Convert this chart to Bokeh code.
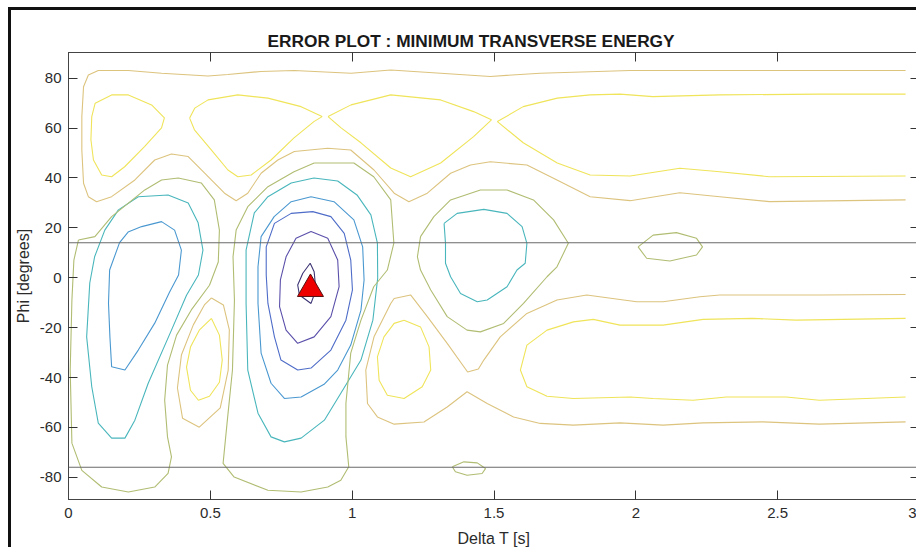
from bokeh.plotting import figure
from bokeh.models import Range1d, LinearAxis, FixedTicker, Span
from bokeh.embed import file_html
from bokeh.resources import INLINE

# ---------------- data ----------------
title_text = "ERROR PLOT : MINIMUM TRANSVERSE ENERGY"
x_label = "Delta T [s]"
y_label = "Phi [degrees]"
x_ticks = [0, 0.5, 1, 1.5, 2, 2.5, 3]
x_tick_labels = ["0", "0.5", "1", "1.5", "2", "2.5", "3"]
y_ticks = [-80, -60, -40, -20, 0, 20, 40, 60, 80]
y_tick_labels = ["-80", "-60", "-40", "-20", "0", "20", "40", "60", "80"]
ref_lines_phi = [14, -76]
min_dt = [0.853]
min_phi = [-4.5]

level_colors = {
    "D0": "#3d3575", "D1": "#5a50aa", "D2": "#4e6cc8", "D3": "#4a98d0",
    "D4": "#49b6bc", "G": "#b0bd72", "T": "#dcc37e", "Y": "#efe45a",
}

# tan band, top (open)
t_top_x = [2.951, 2.647, 2.296, 1.980, 1.663, 1.487, 1.312, 1.136, 0.996, 0.795, 0.679, 0.562, 0.492, 0.328,
           0.211, 0.105, 0.070, 0.053, 0.047, 0.047, 0.053, 0.070, 0.099, 0.152, 0.234, 0.304, 0.363, 0.422,
           0.480, 0.550, 0.591, 0.632, 0.679, 0.738, 0.796, 0.914, 0.995, 1.077, 1.148, 1.200, 1.265, 1.347,
           1.417, 1.487, 1.616, 1.722, 1.839, 1.980, 2.155, 2.296, 2.471, 2.951]
t_top_y = [83.1, 83.1, 83.1, 83.1, 82.0, 80.7, 82.0, 83.3, 82.0, 83.1, 82.7, 81.5, 80.9, 82.0,
           83.1, 83.1, 81.3, 76.6, 64.6, 51.2, 37.9, 32.5, 30.5, 32.5, 39.2, 47.2, 49.6, 48.6,
           41.9, 33.9, 30.9, 33.9, 41.9, 47.2, 50.6, 51.9, 51.2, 43.2, 33.9, 30.5, 33.9, 41.9,
           45.2, 46.5, 45.2, 39.2, 32.5, 30.9, 34.1, 32.5, 30.5, 31.2]

# yellow loops, top
y_a_x = [0.094, 0.152, 0.211, 0.293, 0.338, 0.328, 0.268, 0.198, 0.152, 0.117, 0.088, 0.079, 0.082]
y_a_y = [70.0, 73.3, 73.3, 69.3, 64.1, 60.1, 52.6, 44.5, 40.5, 41.2, 47.2, 55.3, 64.6]
y_b_x = [0.427, 0.445, 0.492, 0.597, 0.703, 0.820, 0.894, 0.865, 0.795, 0.714, 0.644, 0.597, 0.562, 0.504, 0.444]
y_b_y = [64.0, 68.0, 71.3, 73.3, 72.0, 68.6, 64.6, 62.6, 56.1, 47.2, 41.2, 40.5, 43.2, 51.2, 59.3]
y_c_x = [0.915, 0.996, 1.136, 1.312, 1.428, 1.491, 1.428, 1.312, 1.206, 1.136, 1.031, 0.961]
y_c_y = [64.6, 69.3, 73.3, 71.3, 66.6, 63.3, 56.6, 46.0, 40.5, 44.0, 54.1, 60.1]
y_r_x = [2.951, 2.647, 2.296, 2.060, 1.944, 1.839, 1.723, 1.603, 1.512, 1.603, 1.723, 1.839, 1.980, 2.155, 2.296, 2.471, 2.951]
y_r_y = [73.6, 73.6, 73.3, 72.6, 73.6, 73.3, 72.0, 68.6, 62.6, 54.1, 46.0, 41.2, 40.8, 43.9, 42.5, 40.5, 40.8]

# rings around the main minimum
d0_x = [0.852, 0.866, 0.872, 0.855, 0.814, 0.808, 0.826]
d0_y = [5.8, 2.4, -4.9, -10.3, -6.9, -2.9, 1.8]
d1_x = [0.855, 0.914, 0.949, 0.954, 0.925, 0.866, 0.808, 0.767, 0.744, 0.747, 0.767, 0.802]
d1_y = [18.5, 15.8, 7.1, -3.6, -15.6, -23.7, -26.3, -21.0, -11.6, -0.9, 8.4, 15.8]
d2_x = [0.861, 0.925, 0.972, 0.995, 1.001, 0.978, 0.925, 0.855, 0.808, 0.749, 0.726, 0.703, 0.697, 0.697, 0.726, 0.785]
d2_y = [26.5, 24.5, 17.8, 7.1, -4.9, -17.0, -29.0, -36.2, -37.0, -33.0, -23.7, -10.3, 1.1, 12.4, 21.8, 25.8]
d3_x = [0.855, 0.936, 1.006, 1.037, 1.042, 1.031, 0.995, 0.949, 0.901, 0.820, 0.761, 0.714, 0.679, 0.668, 0.668, 0.679, 0.725, 0.785]
d3_y = [32.5, 30.5, 23.2, 12.4, -0.9, -13.0, -27.0, -37.0, -42.7, -47.8, -48.4, -42.3, -30.2, -10.2, 4.4, 16.5, 24.5, 30.5]
d4_x = [0.865, 0.949, 1.017, 1.066, 1.089, 1.090, 1.073, 1.031, 0.960, 0.902, 0.820, 0.761, 0.714, 0.668, 0.632, 0.626, 0.626, 0.655, 0.703, 0.785]
d4_y = [40.0, 38.8, 33.2, 25.2, 13.9, -0.1, -17.0, -33.0, -46.3, -57.1, -64.3, -65.8, -63.8, -54.3, -37.0, -10.2, 11.1, 26.0, 32.5, 38.0]
g_main_x = [0.866, 1.006, 1.076, 1.136, 1.147, 1.124, 1.076, 1.031, 0.995, 0.978, 0.978, 0.988, 0.960, 0.914, 0.820,
            0.703, 0.584, 0.545, 0.560, 0.578, 0.585, 0.580, 0.591, 0.632, 0.703, 0.795]
g_main_y = [46.0, 46.0, 40.5, 31.2, 13.9, 3.1, -3.6, -17.0, -30.2, -50.3, -63.8, -75.8, -81.2, -83.9, -85.9,
            -85.2, -79.9, -74.4, -57.1, -37.0, -9.0, 8.4, 19.1, 28.5, 36.5, 42.5]

# left minimum
l3_x = [0.258, 0.328, 0.374, 0.398, 0.388, 0.356, 0.304, 0.246, 0.199, 0.152, 0.146, 0.141, 0.145, 0.180, 0.210]
l3_y = [20.5, 22.5, 19.1, 11.1, 1.1, -5.8, -18.2, -29.0, -37.0, -35.7, -23.7, -10.2, 3.1, 14.1, 18.3]
l4_x = [0.176, 0.246, 0.351, 0.422, 0.457, 0.474, 0.458, 0.416, 0.363, 0.281, 0.234, 0.199, 0.152, 0.105, 0.082, 0.064, 0.075, 0.092, 0.128]
l4_y = [27.2, 32.5, 33.2, 30.0, 22.0, 11.1, 1.1, -7.0, -21.0, -42.3, -57.1, -64.3, -64.3, -58.3, -43.7, -23.7, -2.1, 8.4, 19.1]
g_left_x = [0.035, 0.093, 0.152, 0.269, 0.328, 0.387, 0.468, 0.514, 0.532, 0.528, 0.497, 0.433, 0.381, 0.349, 0.339, 0.349, 0.363,
            0.351, 0.304, 0.211, 0.117, 0.047, 0.012, 0.006, 0.012, 0.019]
g_left_y = [15.1, 16.5, 24.5, 35.2, 39.2, 40.0, 38.0, 31.2, 19.1, 6.3, -3.0, -12.9, -23.0, -35.0, -49.1, -63.8, -71.8,
            -78.4, -83.9, -85.9, -83.9, -77.2, -66.3, -37.0, -9.0, 7.1]

# ridge between left and main minimum
t_ll_x = [0.504, 0.546, 0.567, 0.563, 0.535, 0.461, 0.402, 0.384, 0.398, 0.440, 0.479]
t_ll_y = [-8.1, -10.9, -20.9, -37.0, -52.2, -59.9, -56.3, -44.2, -31.0, -18.9, -10.9]
y_ll_x = [0.504, 0.532, 0.542, 0.532, 0.497, 0.458, 0.430, 0.416, 0.430, 0.461]
y_ll_y = [-16.3, -23.0, -33.0, -41.9, -47.5, -49.1, -45.1, -35.8, -27.8, -21.0]

# tan band, bottom (open, with a loop)
t_bot_x = [2.951, 2.647, 2.296, 2.226, 2.096, 2.003, 1.944, 1.827, 1.722, 1.616, 1.522, 1.464, 1.445, 1.407, 1.335,
           1.265, 1.206, 1.148, 1.136, 1.077, 1.048, 1.054, 1.089, 1.148, 1.253, 1.335, 1.405, 1.476, 1.569, 1.663,
           1.780, 1.944, 2.096, 2.237, 2.448, 2.647, 2.951]
t_bot_y = [-6.7, -6.9, -6.9, -7.6, -9.6, -9.6, -8.7, -6.9, -8.9, -14.3, -23.7, -33.0, -36.6, -37.8, -26.3,
           -15.6, -6.9, -8.3, -10.3, -23.7, -37.0, -50.4, -55.8, -58.7, -57.8, -51.8, -45.7, -50.4, -55.8, -58.4,
           -59.1, -58.2, -59.1, -58.2, -57.8, -58.7, -57.8]
y_lm_x = [1.183, 1.241, 1.271, 1.277, 1.247, 1.183, 1.124, 1.095, 1.089, 1.112, 1.148]
y_lm_y = [-17.0, -19.7, -27.7, -37.0, -43.7, -48.4, -47.1, -41.1, -31.7, -23.7, -18.3]
y_lr_x = [2.951, 2.565, 2.413, 2.237, 2.096, 1.944, 1.850, 1.780, 1.687, 1.616, 1.593, 1.616, 1.687, 1.780, 1.980,
          2.061, 2.202, 2.319, 2.530, 2.647, 2.951]
y_lr_y = [-16.3, -17.0, -16.3, -16.7, -19.0, -19.0, -16.7, -17.7, -21.0, -27.0, -37.0, -43.7, -47.5, -48.4, -47.8,
          -48.4, -49.1, -47.8, -47.8, -49.1, -47.8]

# minimum near 1.45 s
g_145_x = [1.241, 1.288, 1.347, 1.452, 1.546, 1.639, 1.710, 1.762, 1.722, 1.687, 1.604, 1.534, 1.452, 1.405, 1.335, 1.277, 1.241, 1.230]
g_145_y = [16.5, 24.5, 31.2, 35.2, 35.2, 31.2, 23.2, 13.8, 4.4, 0.4, -10.3, -18.3, -21.7, -21.0, -15.6, -4.9, 3.1, 8.4]
c_145_x = [1.324, 1.370, 1.464, 1.546, 1.599, 1.616, 1.610, 1.581, 1.546, 1.476, 1.441, 1.382, 1.347, 1.329, 1.329]
c_145_y = [21.8, 25.8, 27.4, 25.8, 20.5, 13.8, 5.8, 3.1, -3.6, -8.9, -9.6, -6.3, 0.4, 5.8, 13.8]

# small closed contours
g_ell_x = [2.008, 2.061, 2.143, 2.214, 2.235, 2.214, 2.120, 2.038]
g_ell_y = [12.4, 17.1, 18.1, 15.8, 12.4, 9.1, 6.7, 7.8]
g_tiny_x = [1.353, 1.394, 1.441, 1.470, 1.458, 1.405, 1.364]
g_tiny_y = [-75.8, -73.8, -74.2, -76.5, -78.5, -79.2, -77.8]

contours = [
    ("T", t_top_x, t_top_y, False), ("Y", y_a_x, y_a_y, True), ("Y", y_b_x, y_b_y, True),
    ("Y", y_c_x, y_c_y, True), ("Y", y_r_x, y_r_y, False),
    ("D0", d0_x, d0_y, True), ("D1", d1_x, d1_y, True), ("D2", d2_x, d2_y, True),
    ("D3", d3_x, d3_y, True), ("D4", d4_x, d4_y, True), ("G", g_main_x, g_main_y, True),
    ("D3", l3_x, l3_y, True), ("D4", l4_x, l4_y, True), ("G", g_left_x, g_left_y, True),
    ("T", t_ll_x, t_ll_y, True), ("Y", y_ll_x, y_ll_y, True),
    ("T", t_bot_x, t_bot_y, False), ("Y", y_lm_x, y_lm_y, True), ("Y", y_lr_x, y_lr_y, False),
    ("G", g_145_x, g_145_y, True), ("D4", c_145_x, c_145_y, True),
    ("G", g_ell_x, g_ell_y, True), ("G", g_tiny_x, g_tiny_y, True),
]

# ---------------- figure ----------------
FONT = "Liberation Sans"
p = figure(width=908, height=540, output_backend="svg", toolbar_location=None,
           x_range=Range1d(0, 3), y_range=Range1d(-88.9, 90.3),
           min_border_left=55, min_border_right=0, min_border_top=42, min_border_bottom=51,
           background_fill_color="white", border_fill_color="white")
# outer black frame of the picture (its right and bottom sides lie outside the view)
p.styles = {"margin-left": "8px", "margin-top": "7px",
            "border-left": "3px solid #111111", "border-top": "3px solid #111111"}
p.xgrid.visible = False
p.ygrid.visible = False
p.outline_line_color = "#444444"

p.title.text = title_text
p.title.text_font = FONT
p.title.text_font_size = "17.3px"
p.title.text_font_style = "bold"
p.title.text_color = "#1a1a1a"
p.title.align = "left"
p.title.offset = 199
p.title.standoff = 4

for c_level, cx, cy, closed in contours:
    xs = list(cx) + ([cx[0]] if closed else [])
    ys = list(cy) + ([cy[0]] if closed else [])
    p.line(xs, ys, line_color=level_colors[c_level], line_width=1.1)

for loc in ref_lines_phi:
    p.add_layout(Span(location=loc, dimension="width", line_color="#6a6a6a", line_width=1.1))

p.scatter(min_dt, min_phi, marker="triangle", size=26, fill_color="#ee0000",
          line_color="#551111", line_width=1)

def style_axis(ax, ticks, labels, show):
    ax.ticker = FixedTicker(ticks=ticks)
    ax.major_tick_in = 9
    ax.major_tick_out = 0
    ax.minor_tick_line_color = None
    ax.major_tick_line_color = "#333333"
    ax.axis_line_color = "#444444"
    if show:
        ax.major_label_overrides = {t: l for t, l in zip(ticks, labels)}
        ax.major_label_text_font = FONT
        ax.major_label_text_color = "#2b2b2b"
        ax.major_label_text_font_size = "15px"
        ax.axis_label_text_font = FONT
        ax.axis_label_text_font_style = "normal"
        ax.axis_label_text_color = "#2b2b2b"
        ax.axis_label_text_font_size = "16px"
    else:
        ax.major_label_text_color = None
        ax.major_label_text_font_size = "1px"
        ax.major_label_standoff = 0

xa = p.xaxis[0]
style_axis(xa, x_ticks, x_tick_labels, True)
xa.axis_label = x_label
xa.major_label_standoff = 8
xa.axis_label_standoff = 9
ya = p.yaxis[0]
style_axis(ya, y_ticks, y_tick_labels, True)
ya.axis_label = y_label
ya.major_label_standoff = 7
ya.axis_label_standoff = 5

top_ax = LinearAxis()
style_axis(top_ax, x_ticks, x_tick_labels, False)
p.add_layout(top_ax, "above")
right_ax = LinearAxis()
style_axis(right_ax, y_ticks, y_tick_labels, False)
p.add_layout(right_ax, "right")

open("out.html", "w").write(file_html(p, INLINE))
